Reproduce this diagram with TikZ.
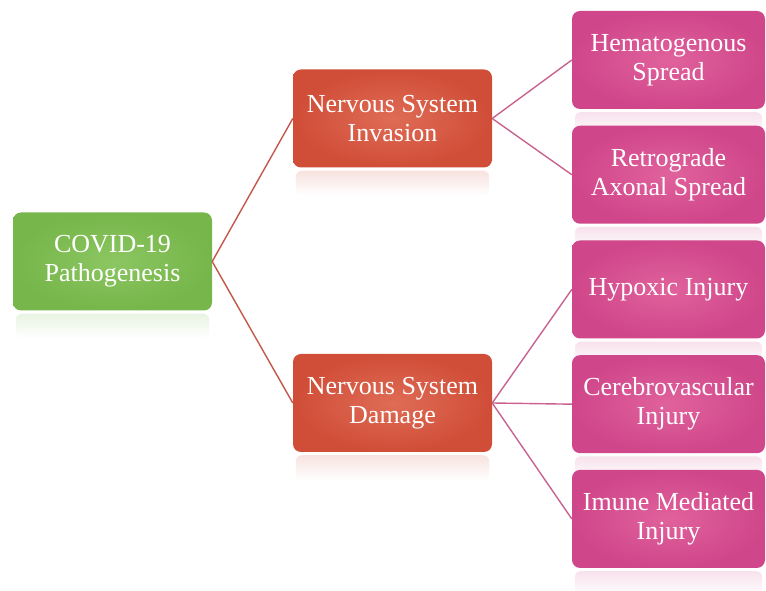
\documentclass[tikz,border=0pt]{standalone}
\usepackage{fontspec}
\setmainfont{Liberation Serif}
\usetikzlibrary{positioning, calc, backgrounds}

\definecolor{leafgreen}{HTML}{76B64A}
\definecolor{leafgreenlight}{HTML}{8CC662}
\definecolor{brickred}{HTML}{D04D37}
\definecolor{brickredlight}{HTML}{DF6C56}
\definecolor{rosepink}{HTML}{D0468A}
\definecolor{rosepinklight}{HTML}{E0629C}
\definecolor{redline}{HTML}{C5574A}
\definecolor{pinkline}{HTML}{C9628F}

\begin{document}
\begin{tikzpicture}[
    x=1pt, y=1pt,
    node distance=16.33pt,
    % Styles
    box/.style={
        rectangle,
        rounded corners=8pt,
        minimum height=98pt,
        inner sep=0pt,
        align=center,
        text=white,
        font=\fontsize{26}{29}\selectfont
    },
    rootbox/.style={
        box,
        minimum width=199pt,
        inner color=leafgreenlight,
        outer color=leafgreen
    },
    midbox/.style={
        box,
        minimum width=199pt,
        inner color=brickredlight,
        outer color=brickred
    },
    leafbox/.style={
        box,
        minimum width=193pt,
        inner color=rosepinklight,
        outer color=rosepink
    },
    redlink/.style={
        draw=redline,
        line width=1.4pt
    },
    pinklink/.style={
        draw=pinkline,
        line width=1.4pt
    }
]
    \useasboundingbox (0,0) rectangle (766,591);

    % Boxes
    \node[rootbox] (root) at (112.5,329.5) {COVID-19\\Pathogenesis};
    \node[midbox] (invasion) at (392.5,472.5) {Nervous System\\Invasion};
    \node[midbox] (damage) at (392.5,188) {Nervous System\\Damage};

    \node[leafbox] (hema) at (668.5,531) {Hematogenous\\Spread};
    \node[leafbox, below=of hema] (retro) {Retrograde\\Axonal Spread};
    \node[leafbox, below=of retro] (hypoxic) {Hypoxic Injury};
    \node[leafbox, below=of hypoxic] (cerebro) {Cerebrovascular\\Injury};
    \node[leafbox, below=of cerebro] (imune) {Imune Mediated\\Injury};

    % Reflections
    \begin{scope}[on background layer]
        \foreach \n/\c in {root/leafgreen, invasion/brickred, damage/brickred,
                hema/rosepink, retro/rosepink, hypoxic/rosepink,
                cerebro/rosepink, imune/rosepink}
            \shade[top color=\c!16, bottom color=white, rounded corners=6pt]
                ($(\n.south west)+(3,-3)$) rectangle ($(\n.south east)+(-3,-28)$);
    \end{scope}

    % Paths
    \draw[redlink] (root.east) -- (invasion.west);
    \draw[redlink] (root.east) -- (damage.west);
    \draw[pinklink] (invasion.east) -- (hema.west);
    \draw[pinklink] (invasion.east) -- (retro.west);
    \draw[pinklink] (damage.east) -- (hypoxic.west);
    \draw[pinklink] (damage.east) -- (cerebro.west);
    \draw[pinklink] (damage.east) -- (imune.west);
\end{tikzpicture}
\end{document}
